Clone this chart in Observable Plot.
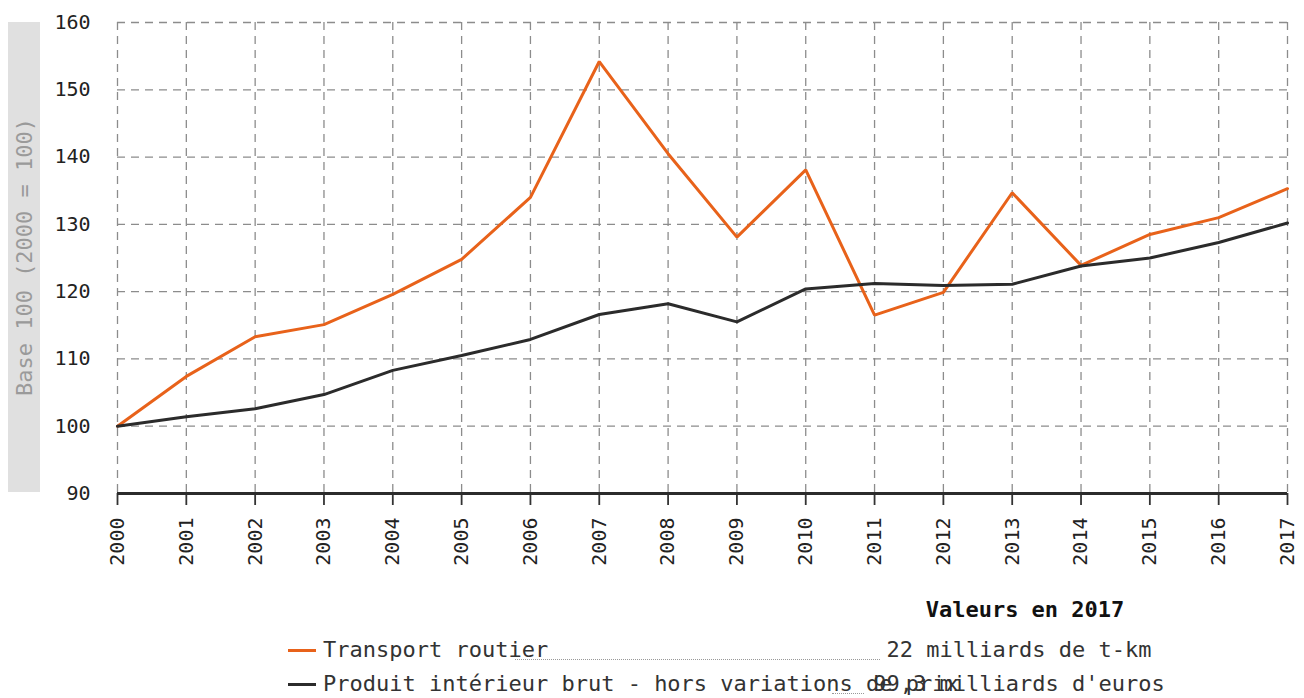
<!DOCTYPE html>
<html>
<head>
<meta charset="utf-8">
<script src="https://cdn.jsdelivr.net/npm/d3@7"></script>
<script src="https://cdn.jsdelivr.net/npm/@observablehq/plot@0.6"></script>
<style>
  html, body { margin: 0; padding: 0; background: #fff; }
  body { font-family: "DejaVu Sans Mono", monospace; }
  #wrap { position: relative; width: 1304px; height: 698px; overflow: hidden; }
  #ylab { position: absolute; left: 8px; top: 22px; width: 32px; height: 470px; background: #e0e0e0; }
  #ylab span { position: absolute; left: 50%; top: 50%; transform: translate(-50%, -50%) rotate(-90deg); white-space: nowrap; color: #9a9a9a; font-size: 22px; }
  #legend { position: absolute; left: 0; top: 590px; width: 1304px; height: 108px; font-size: 22px; color: #333; }
  .abs { position: absolute; white-space: nowrap; }
</style>
</head>
<body>
<div id="wrap">
  <div id="chart"></div>
  <div id="ylab"><span></span></div>
  <div id="legend"></div>
</div>
<script>
const years = [2000, 2001, 2002, 2003, 2004, 2005, 2006, 2007, 2008, 2009, 2010, 2011, 2012, 2013, 2014, 2015, 2016, 2017];
const transportRoutier = [100, 107.4, 113.3, 115.1, 119.6, 124.8, 134.0, 154.2, 140.5, 128.1, 138.1, 116.5, 119.9, 134.7, 123.9, 128.5, 131.0, 135.3];
const pib = [100, 101.4, 102.6, 104.7, 108.3, 110.5, 112.9, 116.6, 118.2, 115.5, 120.4, 121.2, 120.9, 121.1, 123.8, 125.0, 127.3, 130.2];
const seriesNames = ["Transport routier", "Produit intérieur brut - hors variations de prix"];
const seriesValues2017 = ["22 milliards de t-km", "99,3 milliards d'euros"];
const seriesColors = ["#e8621a", "#2b2b2b"];
const yTicks = [90, 100, 110, 120, 130, 140, 150, 160];
const yLabel = "Base 100 (2000 = 100)";
const legendTitle = "Valeurs en 2017";

const data = [];
years.forEach((yr, i) => {
  data.push({year: yr, value: transportRoutier[i], series: seriesNames[0]});
});
years.forEach((yr, i) => {
  data.push({year: yr, value: pib[i], series: seriesNames[1]});
});

const grid = {stroke: "#8c8c8c", strokeOpacity: 1, strokeWidth: 1.3, strokeDasharray: "8,6"};

const chart = Plot.plot({
  width: 1304,
  height: 590,
  marginLeft: 117,
  marginRight: 17,
  marginTop: 22,
  marginBottom: 97,
  style: {fontFamily: "'DejaVu Sans Mono', monospace", fontSize: "20px", color: "#222", background: "#fff"},
  x: {domain: [2000, 2017]},
  y: {domain: [90, 160]},
  color: {domain: seriesNames, range: seriesColors},
  marks: [
    Plot.gridX(years, grid),
    Plot.gridY(yTicks.filter(d => d > 90), grid),
    Plot.axisY(yTicks, {tickSize: 0, tickPadding: 27, label: null, fontSize: 20}),
    Plot.axisX(years, {tickSize: 12, tickPadding: 12, tickRotate: -90, label: null, tickFormat: d => String(d), stroke: "#333", strokeWidth: 1.8, fontSize: 20}),
    Plot.ruleY([90], {stroke: "#2b2b2b", strokeWidth: 3}),
    Plot.line(data, {x: "year", y: "value", z: "series", stroke: "series", strokeWidth: 3, strokeLinejoin: "miter"})
  ]
});
document.getElementById("chart").appendChild(chart);
document.querySelector("#ylab span").textContent = yLabel;

const legend = document.getElementById("legend");
function add(text, style) {
  const d = document.createElement("div");
  d.className = "abs";
  Object.assign(d.style, style);
  d.textContent = text;
  legend.appendChild(d);
  return d;
}
const valueCenter = 1019;
add(legendTitle, {left: "1025px", top: "7px", fontWeight: "bold", color: "#111", transform: "translateX(-50%)"});
const rowTops = [47, 81];
const leaders = [[515, 880], [832, 864]];
seriesNames.forEach((name, i) => {
  const top = rowTops[i];
  const sw = document.createElement("div");
  sw.className = "abs";
  Object.assign(sw.style, {left: "288px", top: (top + 12) + "px", width: "28px", height: "0px", borderTop: "3px solid " + seriesColors[i]});
  legend.appendChild(sw);
  add(name, {left: "323px", top: top + "px", color: "#333"});
  const ld = document.createElement("div");
  ld.className = "abs";
  Object.assign(ld.style, {left: leaders[i][0] + "px", top: (top + 22) + "px", width: (leaders[i][1] - leaders[i][0]) + "px", borderTop: "1px dotted #999"});
  legend.appendChild(ld);
  add(seriesValues2017[i], {left: valueCenter + "px", top: top + "px", color: "#333", transform: "translateX(-50%)"});
});
</script>
</body>
</html>
